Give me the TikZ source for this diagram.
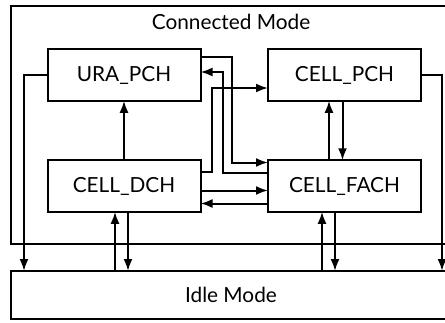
\documentclass[tikz,border=0pt]{standalone}
\usepackage{fontspec}
\setmainfont{Lato}
\usepackage{tikz}
\usetikzlibrary{arrows.meta}
\tikzset{
  mode box/.style={
    draw, line width=1pt,
    outer sep=0pt,
    minimum width=220pt,
    font=\fontsize{10.4}{12}\selectfont
  },
  state box/.style={
    draw, line width=1pt,
    outer sep=0pt,
    minimum width=76.5pt, minimum height=25.75pt,
    font=\fontsize{10.4}{12}\selectfont
  },
  trans/.style={
    -{Latex[length=6pt, width=4.5pt]},
    line width=1pt
  }
}

\begin{document}
\begin{tikzpicture}[x=0.5pt, y=-0.5pt]
  \useasboundingbox (0, 0) rectangle (445, 322);

  % Modes
  \node[mode box, minimum height=119pt] (connected) at (231, 125) {};
  \node[font=\fontsize{10.4}{12}\selectfont] (conntitle) at (231, 22) {Connected Mode};
  \node[mode box, minimum height=24pt] (idle) at (231, 295) {Idle Mode};

  % States
  \node[state box] (ura) at (124, 75) {URA\_PCH};
  \node[state box] (cellpch) at (344.5, 75) {CELL\_PCH};
  \node[state box] (celldch) at (124, 186) {CELL\_DCH};
  \node[state box] (cellfach) at (344.5, 186) {CELL\_FACH};

  % Lanes
  \coordinate (laneL) at (24, 150);
  \coordinate (laneR) at (442, 150);
  \coordinate (laneA) at (223, 120);
  \coordinate (laneB) at (232, 120);
  \coordinate (laneC) at (212, 130);
  \coordinate (dchup) at ([xshift=-4.5pt]celldch.south);
  \coordinate (dchdn) at ([xshift=2pt]celldch.south);
  \coordinate (fachup) at ([xshift=-11.25pt]cellfach.south);
  \coordinate (fachdn) at ([xshift=-4.75pt]cellfach.south);

  % Inside Connected Mode
  \draw[trans] (celldch.north) -- (ura.south);
  \draw[trans] ([xshift=-7.75pt]cellfach.north) -- ([xshift=-7.75pt]cellpch.south);
  \draw[trans] ([xshift=-1pt]cellpch.south) -- ([xshift=-1pt]cellfach.north);
  \draw[trans] ([yshift=-2.25pt]celldch.east) -- ([yshift=-2.25pt]cellfach.west);
  \draw[trans] ([yshift=-8.75pt]cellfach.west) -- ([yshift=-8.75pt]celldch.east);
  \draw[trans] ([yshift=9pt]ura.east) -| (laneB) |- ([yshift=11.75pt]cellfach.west);
  \draw[trans] ([yshift=6.5pt]cellfach.west) -| (laneA) |- ([yshift=1.5pt]ura.east);
  \draw[trans] ([yshift=7pt]celldch.east) -| (laneC) |- ([yshift=-6.5pt]cellpch.west);

  % To and from Idle Mode
  \draw[trans] (ura.west) -| (idle.north -| laneL);
  \draw[trans] (cellpch.east) -| (idle.north -| laneR);
  \draw[trans] (idle.north -| dchup) -- (dchup);
  \draw[trans] (dchdn) -- (idle.north -| dchdn);
  \draw[trans] (idle.north -| fachup) -- (fachup);
  \draw[trans] (fachdn) -- (idle.north -| fachdn);
\end{tikzpicture}
\end{document}
